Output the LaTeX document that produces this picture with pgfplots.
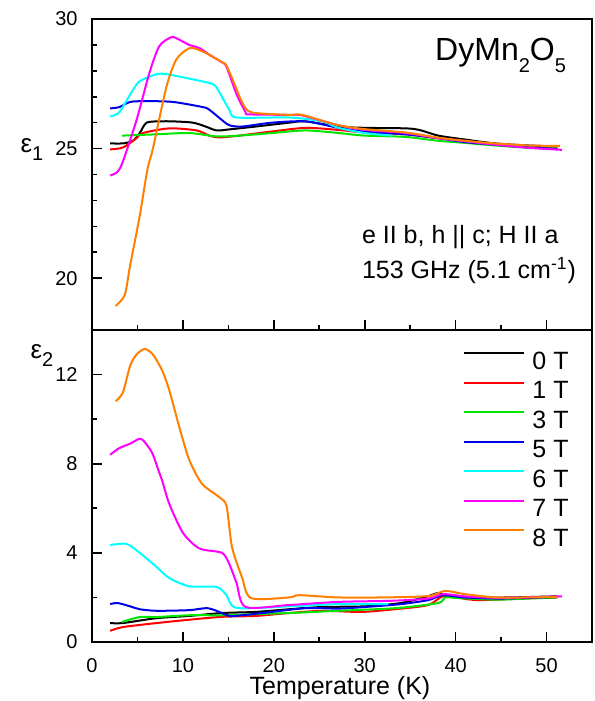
\documentclass[border=0pt]{standalone}
\usepackage{fontspec}
\setmainfont{Liberation Sans}
\usepackage{pgfplots}
\pgfplotsset{compat=1.18}

\definecolor{cRed}{RGB}{255,0,0}
\definecolor{cGreen}{RGB}{0,230,0}
\definecolor{cBlue}{RGB}{0,0,230}
\definecolor{cCyan}{RGB}{0,255,255}
\definecolor{cMagenta}{RGB}{255,0,255}
\definecolor{cOrange}{RGB}{255,128,0}

\newcommand{\sub}[1]{\raisebox{-6pt}{\fontsize{10}{10}\selectfont #1}}

\pgfplotsset{
  panel/.style={
    width=250pt, scale only axis,
    xmin=0, xmax=55, xtick={0,10,...,50}, minor x tick num=1,
    tick align=inside, xtick pos=bottom, ytick pos=left,
    major tick length=5pt, minor tick length=2.5pt,
    axis line style={line width=1pt},
    every tick/.style={black, line width=0.8pt},
    /pgf/number format/assume math mode=true,
    tick label style={font=\fontsize{10}{12}\selectfont},
    xticklabel style={yshift=-4.5pt},
    yticklabel style={xshift=-3.7pt},
    clip mode=individual,
    every axis plot/.append style={line width=1pt, smooth, tension=0.45},
  },
}

\begin{document}
\begin{tikzpicture}
\useasboundingbox (-46pt,-29.5pt) rectangle (251pt,321pt);

% ---- bottom panel: eps2
\begin{axis}[panel, height=156pt, at={(0pt,0pt)}, anchor=south west,
  ymin=0, ymax=14, ytick={0,4,8,12}, minor y tick num=1,
  legend cell align=left,
  legend style={at={(0.966,0.946)}, anchor=north east, draw=none, fill=none,
    font=\fontsize{12.5}{14}\selectfont,
    nodes={inner sep=0pt, text height=9pt, text depth=0pt},
    row sep=5.75pt, column sep=4pt},
  legend image code/.code={\draw[#1, sharp plot, line width=0.8pt] (0pt,3.5pt) -- (30pt,3.5pt);},
]
\addplot[black] coordinates {(2.0,0.85) (3.4,0.85) (7.1,1.07) (10.7,1.17) (14.3,1.3) (18.0,1.35) (21.7,1.47) (25.3,1.57) (30,1.6) (34,1.75) (37.0,2.06) (38.1,2.2) (39,2.1) (42,2.0) (46,2.0) (51.2,2.05)};
\addplot[cRed] coordinates {(2.0,0.5) (3.4,0.67) (7.1,0.85) (10.7,1.0) (14.3,1.13) (18.0,1.17) (21.7,1.3) (25.3,1.4) (29.7,1.35) (34,1.5) (37,1.66) (38.6,2.06) (40,2.0) (42.5,1.88) (48,1.96) (51.2,2.0)};
\addplot[cGreen] coordinates {(3.3,0.9) (5.25,1.12) (7.1,1.12) (10.7,1.2) (14.3,1.2) (18,1.25) (21.7,1.3) (27.1,1.4) (33.4,1.52) (38.1,1.75) (38.8,2.0) (40,1.98) (44.3,1.9) (48,1.95) (51.2,2.0)};
\addplot[cBlue] coordinates {(2.0,1.7) (2.8,1.75) (4.2,1.6) (5.25,1.47) (7.1,1.4) (10.7,1.43) (12.6,1.52) (13.7,1.4) (15.1,1.17) (16.5,1.2) (19.8,1.35) (23.5,1.52) (27.1,1.5) (30,1.57) (34,1.7) (37,1.88) (38.6,2.1) (41,2.0) (45,1.95) (51.2,2.02)};
\addplot[cCyan] coordinates {(2.0,4.35) (3.8,4.4) (5.25,4.0) (7.1,3.37) (8.5,2.87) (10.7,2.5) (13.7,2.47) (14.8,2.1) (15.9,1.53) (21.7,1.6) (27.1,1.7) (32.6,1.7)};
\addplot[cMagenta] coordinates {(2.0,8.4) (3.0,8.7) (4.2,8.9) (5.1,9.1) (5.6,9.06) (6.6,8.5) (7.4,7.6) (7.7,7.27) (8.5,6.2) (10.0,4.9) (11.8,4.2) (14.3,4.0) (15.1,3.5) (15.9,2.65) (16.9,1.57) (21.7,1.66) (27.1,1.8) (33,1.85) (37,1.95) (38.6,2.15) (41,2.05) (45,1.98) (51.7,2.05)};
\addplot[cOrange] coordinates {(2.6,10.8) (3.4,11.2) (4.2,12.4) (4.9,12.9) (5.8,13.15) (6.7,12.9) (7.7,12.2) (8.5,11.3) (9.6,9.65) (10.7,8.17) (12.1,7.1) (14.0,6.5) (14.8,6.1) (15.4,4.26) (16.5,2.9) (17.5,1.97) (21.7,2.0) (22.8,2.1) (27.1,2.0) (32,2.0) (37,2.06) (38.8,2.29) (41,2.15) (44.3,2.0) (48,2.0) (51.2,2.02)};
\legend{0 T,1 T,3 T,5 T,6 T,7 T,8 T}
\node at (axis description cs:-0.1,0.917) {\fontsize{13}{13}\selectfont ε{\fontsize{10}{10}\selectfont\raisebox{-4pt}{2}}};
\node[anchor=base] at (axis description cs:0.496,0) [yshift=-26.5pt] {\fontsize{12.5}{14}\selectfont Temperature (K)};
\end{axis}

% ---- top panel: eps1
\begin{axis}[panel, height=155.5pt, at={(0pt,156pt)}, anchor=south west,
  ymin=18, ymax=30, ytick={20,25,30}, minor y tick num=4,
  xticklabels={},
]
\addplot[black] coordinates {(2.0,25.2) (3.4,25.2) (4.5,25.3) (5.25,25.6) (6.0,26.0) (7.5,26.05) (8.9,26.05) (11.1,26.0) (12.5,25.85) (13.7,25.7) (15.1,25.74) (18.0,25.85) (21.7,26.0) (23.5,26.05) (27.1,25.85) (30,25.8) (34.5,25.78) (36,25.72) (38.1,25.5) (41,25.35) (44.3,25.2) (48,25.12) (51.2,25.08)};
\addplot[cRed] coordinates {(2.0,24.97) (3.4,25.04) (4.9,25.4) (5.6,25.6) (8.5,25.78) (11.5,25.7) (12.9,25.5) (14.0,25.43) (16.2,25.5) (19.8,25.66) (23.5,25.8) (27.1,25.72) (30,25.62) (34.5,25.55) (38.1,25.4) (41,25.3) (44.3,25.15) (48,25.05) (51.2,25.0)};
\addplot[cGreen] coordinates {(3.3,25.5) (7.1,25.55) (10.7,25.6) (13.7,25.47) (16.2,25.5) (19.8,25.6) (23.5,25.7) (27.1,25.6) (30,25.5) (34.5,25.45) (38.1,25.3) (41,25.22) (44.3,25.12) (48,25.03) (51.2,25.0)};
\addplot[cBlue] coordinates {(2.0,26.55) (3.0,26.6) (4.2,26.8) (6.0,26.83) (8.9,26.8) (12.2,26.6) (12.9,26.5) (14.3,26.1) (15.1,25.9) (16.5,25.85) (19.8,26.0) (23.5,26.05) (27.1,25.8) (30,25.65) (34.5,25.55) (38.1,25.4) (41,25.25) (44.3,25.15) (48,25.05) (51.2,24.98)};
\addplot[cCyan] coordinates {(2.0,26.24) (3.0,26.4) (4.4,27.2) (5.25,27.6) (7.1,27.87) (8.2,27.87) (10.7,27.7) (13.2,27.5) (13.8,27.3) (15.1,26.5) (15.9,26.2) (21.7,26.2) (25.3,26.05) (27.1,25.8) (30,25.6) (33,25.5)};
\addplot[cMagenta] coordinates {(2.0,23.96) (2.8,24.1) (3.4,24.5) (4.9,26.1) (6.3,27.9) (7.4,28.95) (8.75,29.3) (9.6,29.2) (10.7,29.0) (11.8,28.88) (13,28.6) (14.3,28.33) (14.8,28.15) (15.9,27.1) (16.9,26.4) (17.3,26.32) (21.7,26.3) (23.1,26.28) (27.1,25.9) (30,25.72) (34.5,25.6) (38.1,25.4) (41,25.28) (44.3,25.15) (48,25.03) (51.7,24.95)};
\addplot[cOrange] coordinates {(2.6,18.93) (3.6,19.35) (4.2,20.5) (5.25,22.4) (6.1,24.2) (6.7,25.0) (8.2,27.4) (9.3,28.45) (10.7,28.87) (11.8,28.8) (13,28.6) (14.3,28.33) (14.8,28.2) (15.9,27.3) (16.5,26.8) (17.5,26.4) (21.7,26.3) (23.1,26.3) (27.1,25.9) (30,25.75) (34.5,25.62) (38.1,25.42) (41,25.3) (44.3,25.2) (48,25.12) (51.5,25.1)};
\node at (axis description cs:-0.12,0.579) {\fontsize{13}{13}\selectfont ε{\fontsize{10}{10}\selectfont\raisebox{-4pt}{1}}};
\node[anchor=base east] at (axis description cs:0.962,0.868) {\fontsize{16}{16}\selectfont DyMn\sub{2}O\sub{5}};
\node[anchor=base west] at (axis description cs:0.526,0.277) {\fontsize{12.5}{14}\selectfont e II b, h || c; H II a};
\node[anchor=base west] at (axis description cs:0.526,0.167) {\fontsize{12.5}{14}\selectfont 153 GHz (5.1 cm\textsuperscript{-1})};
\end{axis}
\end{tikzpicture}
\end{document}
